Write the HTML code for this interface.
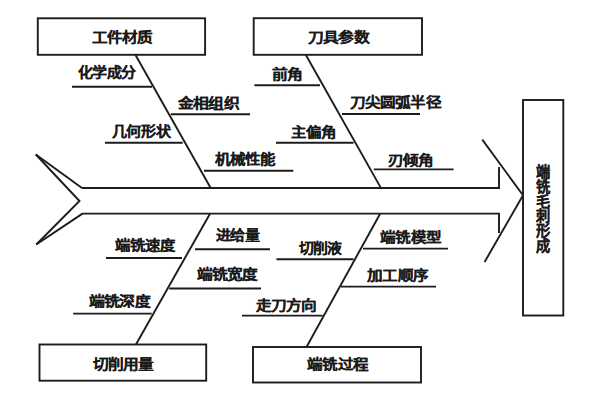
<!DOCTYPE html><html lang="zh-CN"><head><meta charset="utf-8"><style>html,body{margin:0;padding:0;background:#fff;width:600px;height:400px;overflow:hidden}svg{display:block}text{font-family:"Liberation Sans",sans-serif;font-size:15.4px;fill:#1a1a1a;stroke:#1a1a1a;stroke-width:0.15px;font-weight:700}</style></head><body>
<svg width="600" height="400" viewBox="0 0 600 400">
<g fill="none" stroke="#1c1c1c" stroke-width="1.9" stroke-linejoin="miter" stroke-linecap="butt">
<rect x="37.8" y="18.3" width="167.3" height="36.5"/>
<rect x="253.7" y="18.2" width="168.3" height="36.6"/>
<rect x="39.5" y="344.5" width="166.7" height="36.2"/>
<rect x="253.0" y="347.0" width="168.0" height="35.5"/>
<rect x="523.0" y="100.0" width="40.3" height="215.5"/>
<polyline points="35.8,154.5 82.0,188.1"/>
<polyline points="35.8,154.5 79.5,201.0 36.3,244.5"/>
<polyline points="36.3,244.5 82.5,213.6"/>
<polyline points="82.0,188.0 499.0,188.0 499.0,167.0"/>
<polyline points="82.0,213.6 499.0,213.6 499.0,233.0"/>
<polyline points="482.3,139.6 523.0,195.3 484.6,262.0"/>
<polyline points="135.5,55.0 210.7,188.0"/>
<polyline points="305.9,55.0 381.0,188.1"/>
<polyline points="210.0,213.7 135.8,344.7"/>
<polyline points="380.0,214.0 306.5,347.0"/>
<line x1="72.0" y1="86.8" x2="152.0" y2="86.8"/>
<line x1="170.8" y1="114.3" x2="250.0" y2="114.3"/>
<line x1="105.0" y1="142.8" x2="182.7" y2="142.8"/>
<line x1="204.0" y1="170.8" x2="293.3" y2="170.8"/>
<line x1="254.4" y1="85.2" x2="320.0" y2="85.2"/>
<line x1="342.0" y1="114.0" x2="420.0" y2="114.0"/>
<line x1="276.0" y1="142.7" x2="353.6" y2="142.7"/>
<line x1="373.8" y1="169.4" x2="453.6" y2="169.4"/>
<line x1="195.0" y1="249.2" x2="270.0" y2="249.2"/>
<line x1="106.0" y1="258.0" x2="182.0" y2="258.0"/>
<line x1="169.2" y1="288.5" x2="261.0" y2="288.5"/>
<line x1="73.2" y1="313.6" x2="151.7" y2="313.6"/>
<line x1="276.5" y1="259.3" x2="353.6" y2="259.3"/>
<line x1="363.0" y1="248.6" x2="448.0" y2="248.6"/>
<line x1="341.0" y1="286.6" x2="436.0" y2="286.6"/>
<line x1="242.0" y1="315.6" x2="322.7" y2="315.6"/>
</g>
<text transform="translate(91.50,41.88) scale(1,0.860)" textLength="60.85" lengthAdjust="spacingAndGlyphs">工件材质</text>
<text transform="translate(307.70,41.76) scale(1,0.860)" textLength="61.57" lengthAdjust="spacingAndGlyphs">刀具参数</text>
<text transform="translate(92.50,368.79) scale(1,0.860)" textLength="61.18" lengthAdjust="spacingAndGlyphs">切削用量</text>
<text transform="translate(307.30,369.35) scale(1,0.860)" textLength="60.67" lengthAdjust="spacingAndGlyphs">端铣过程</text>
<text transform="translate(77.50,77.44) scale(1,0.860)" textLength="58.62" lengthAdjust="spacingAndGlyphs">化学成分</text>
<text transform="translate(177.70,107.68) scale(1,0.860)" textLength="61.59" lengthAdjust="spacingAndGlyphs">金相组织</text>
<text transform="translate(111.50,136.44) scale(1,0.860)" textLength="58.96" lengthAdjust="spacingAndGlyphs">几何形状</text>
<text transform="translate(215.10,163.50) scale(1,0.860)" textLength="60.46" lengthAdjust="spacingAndGlyphs">机械性能</text>
<text transform="translate(271.70,78.52) scale(1,0.860)" textLength="30.93" lengthAdjust="spacingAndGlyphs">前角</text>
<text transform="translate(349.50,107.07) scale(1,0.860)" textLength="91.32" lengthAdjust="spacingAndGlyphs">刀尖圆弧半径</text>
<text transform="translate(290.50,136.50) scale(1,0.860)" textLength="45.30" lengthAdjust="spacingAndGlyphs">主偏角</text>
<text transform="translate(387.50,164.50) scale(1,0.860)" textLength="45.85" lengthAdjust="spacingAndGlyphs">刃倾角</text>
<text transform="translate(215.50,239.95) scale(1,0.860)" textLength="43.97" lengthAdjust="spacingAndGlyphs">进给量</text>
<text transform="translate(115.10,249.65) scale(1,0.860)" textLength="60.07" lengthAdjust="spacingAndGlyphs">端铣速度</text>
<text transform="translate(196.50,278.64) scale(1,0.860)" textLength="61.21" lengthAdjust="spacingAndGlyphs">端铣宽度</text>
<text transform="translate(88.50,305.95) scale(1,0.860)" textLength="61.68" lengthAdjust="spacingAndGlyphs">端铣深度</text>
<text transform="translate(298.50,252.50) scale(1,0.860)" textLength="43.48" lengthAdjust="spacingAndGlyphs">切削液</text>
<text transform="translate(380.30,241.88) scale(1,0.860)" textLength="60.66" lengthAdjust="spacingAndGlyphs">端铣模型</text>
<text transform="translate(367.30,280.08) scale(1,0.860)" textLength="60.63" lengthAdjust="spacingAndGlyphs">加工顺序</text>
<text transform="translate(255.50,309.74) scale(1,0.860)" textLength="61.09" lengthAdjust="spacingAndGlyphs">走刀方向</text>
<text transform="translate(536.2,177.3) scale(0.95,1)" style="font-size:15.0px">端</text>
<text transform="translate(536.2,192.0) scale(0.95,1)" style="font-size:15.0px">铣</text>
<text transform="translate(536.2,206.6) scale(0.95,1)" style="font-size:15.0px">毛</text>
<text transform="translate(536.2,221.2) scale(0.95,1)" style="font-size:15.0px">刺</text>
<text transform="translate(536.2,235.9) scale(0.95,1)" style="font-size:15.0px">形</text>
<text transform="translate(536.2,250.6) scale(0.95,1)" style="font-size:15.0px">成</text>
</svg></body></html>
